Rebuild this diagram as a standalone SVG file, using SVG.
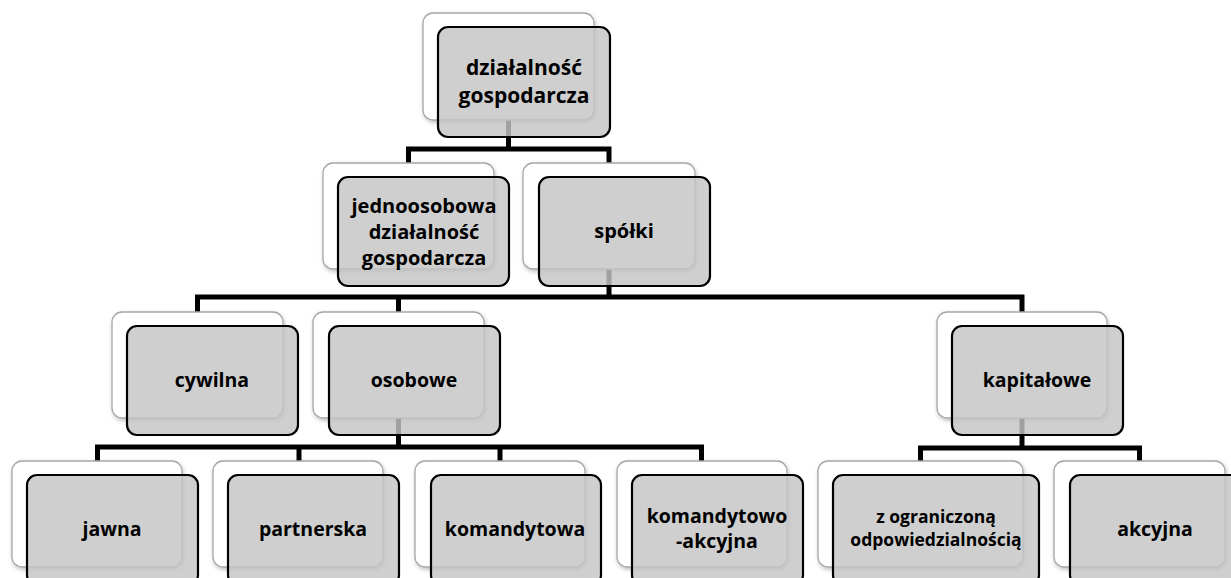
<svg xmlns="http://www.w3.org/2000/svg" width="1231" height="578" viewBox="0 0 1231 578">
<style>
.back{fill:#ffffff;stroke:#a6a6a6;stroke-width:1.3;filter:url(#sh)}
.front{fill:#c4c4c4;fill-opacity:0.82;stroke:#000;stroke-width:2.2}
.t{font-family:"Open Sans","Liberation Sans",sans-serif;font-weight:bold;font-size:19.5px;fill:#000;text-anchor:middle}
.l1{font-size:21px}
.l2{font-size:20px}
.s{font-size:17.5px}
.c{fill:none;stroke:#000;stroke-width:5;stroke-linejoin:miter}
</style>
<defs>
<filter id="sh" x="-10%" y="-10%" width="125%" height="125%">
<feDropShadow dx="1" dy="2" stdDeviation="2" flood-color="#000" flood-opacity="0.25"/>
</filter>
</defs>
<rect width="1231" height="578" fill="#fff"/>
<g id="connectors">
<path class="c" d="M508.5,120V149M408.5,163V149H609V163"/>
<path class="c" d="M609,268V297M197.5,312V297H1022V312M398.5,297V312"/>
<path class="c" d="M398.5,418V447M97.5,461V447H701.5V461M299,447V461M500,447V461"/>
<path class="c" d="M1022,418V448M920.5,461V448H1139.5V461"/>
</g>
<g id="n-dzialalnosc">
<rect class="back" x="423" y="13" width="171" height="107" rx="10"/>
<rect class="front" x="438" y="27" width="172" height="110" rx="10"/>
<text class="t l1" x="524" y="75">działalność</text>
<text class="t l1" x="524" y="103">gospodarcza</text>
</g>
<g id="n-jednoosobowa">
<rect class="back" x="323" y="163" width="171" height="106" rx="10"/>
<rect class="front" x="338" y="177" width="171" height="109" rx="10"/>
<text class="t l2" x="424" y="213">jednoosobowa</text>
<text class="t l2" x="424" y="239">działalność</text>
<text class="t l2" x="424" y="265">gospodarcza</text>
</g>
<g id="n-spolki">
<rect class="back" x="523" y="163" width="172" height="106" rx="10"/>
<rect class="front" x="539" y="177" width="171" height="109" rx="10"/>
<text class="t l2" x="624" y="238">spółki</text>
</g>
<g id="n-cywilna">
<rect class="back" x="112" y="312" width="171" height="106" rx="10"/>
<rect class="front" x="127" y="326" width="171" height="109" rx="10"/>
<text class="t" x="212" y="387">cywilna</text>
</g>
<g id="n-osobowe">
<rect class="back" x="313" y="312" width="171" height="106" rx="10"/>
<rect class="front" x="329" y="326" width="171" height="109" rx="10"/>
<text class="t" x="414" y="387">osobowe</text>
</g>
<g id="n-kapitalowe">
<rect class="back" x="937" y="312" width="170" height="106" rx="10"/>
<rect class="front" x="952" y="326" width="171" height="109" rx="10"/>
<text class="t" x="1037" y="387">kapitałowe</text>
</g>
<g id="n-jawna">
<rect class="back" x="12" y="461" width="170" height="106" rx="10"/>
<rect class="front" x="27" y="475" width="171" height="110" rx="10"/>
<text class="t" x="112" y="536">jawna</text>
</g>
<g id="n-partnerska">
<rect class="back" x="213" y="461" width="170" height="106" rx="10"/>
<rect class="front" x="228" y="475" width="171" height="110" rx="10"/>
<text class="t" x="313" y="536">partnerska</text>
</g>
<g id="n-komandytowa">
<rect class="back" x="415" y="461" width="170" height="106" rx="10"/>
<rect class="front" x="431" y="475" width="170" height="110" rx="10"/>
<text class="t" x="515" y="536">komandytowa</text>
</g>
<g id="n-komandytowo-akcyjna">
<rect class="back" x="617" y="461" width="170" height="106" rx="10"/>
<rect class="front" x="632" y="475" width="171" height="110" rx="10"/>
<text class="t" x="717" y="523">komandytowo</text>
<text class="t" x="717" y="548">-akcyjna</text>
</g>
<g id="n-zoo">
<rect class="back" x="818" y="461" width="205" height="106" rx="10"/>
<rect class="front" x="833" y="475" width="206" height="110" rx="10"/>
<text class="t s" x="936" y="523">z ograniczoną</text>
<text class="t s" x="936" y="546">odpowiedzialnością</text>
</g>
<g id="n-akcyjna">
<rect class="back" x="1054" y="461" width="171" height="106" rx="10"/>
<rect class="front" x="1070" y="475" width="171" height="110" rx="10"/>
<text class="t" x="1155" y="536">akcyjna</text>
</g>
</svg>
